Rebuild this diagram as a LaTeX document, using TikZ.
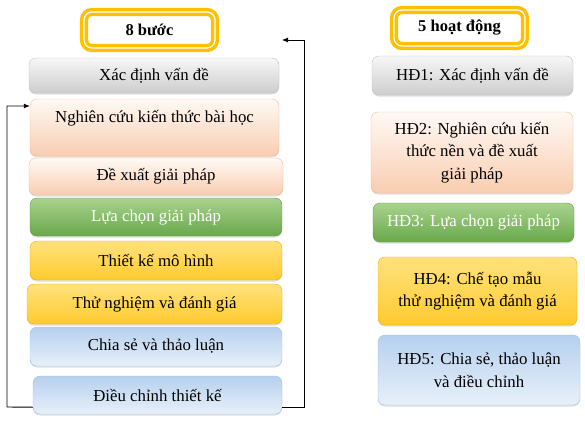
\documentclass[tikz,border=0pt]{standalone}
\usepackage{fontspec}
\setmainfont{Liberation Serif}
\usetikzlibrary{arrows.meta,calc,shadows}
\definecolor{grT}{HTML}{F7F7F7}\definecolor{grB}{HTML}{CDCDCD}\definecolor{grD}{HTML}{BFBFBF}
\definecolor{peT}{HTML}{FFF9F5}\definecolor{peB}{HTML}{F9CDB0}\definecolor{peD}{HTML}{F4B990}
\definecolor{gnT}{HTML}{A9D28E}\definecolor{gnB}{HTML}{68A84A}\definecolor{gnD}{HTML}{5E9A42}
\definecolor{orT}{HTML}{FFE27E}\definecolor{orM}{HTML}{FFC000}\definecolor{orB}{HTML}{FFCA2E}\definecolor{orD}{HTML}{E8B000}
\definecolor{blT}{HTML}{B6D0EE}\definecolor{blB}{HTML}{E8F0FA}\definecolor{blD}{HTML}{9DC3E6}
\definecolor{ttl}{HTML}{FFC000}
\tikzset{
  box/.style={rounded corners=7pt, inner sep=2pt, align=center, font=\fontsize{16.8}{22.5}\selectfont,
     drop shadow={shadow xshift=0pt, shadow yshift=-1.5pt, opacity=0.25}},
  graybox/.style={box, draw=grD, top color=grT, bottom color=grB},
  peachbox/.style={box, draw=peD, top color=peT, bottom color=peB},
  greenbox/.style={box, draw=gnD, top color=gnT, bottom color=gnB, text=white},
  orangebox/.style={box, draw=orD, top color=orT, middle color=orM, bottom color=orB},
  bluebox/.style={box, draw=blD, top color=blT, bottom color=blB},
  titlebox/.style={rounded corners=8pt, draw=ttl, line width=3.5pt, fill=white, double=white, double distance=1.2pt,
     font=\bfseries\fontsize{16.5}{20}\selectfont},
  loop/.style={line width=0.9pt, -{Latex[length=6pt,width=5pt]}}
}
\begin{document}
\begin{tikzpicture}[x=1pt,y=-1pt]
\useasboundingbox (0,0) rectangle (585,420);
% left column
\node[titlebox, minimum width=131pt, minimum height=36pt] (t1) at (149.5,30) {8 bước};
\node[graybox, minimum width=250pt, minimum height=35pt] (s1) at (154,75.5) {Xác định vấn đề};
\node[peachbox, minimum width=249pt, minimum height=57pt] (s2) at (154.5,127.5) {Nghiên cứu kiến thức bài học\\ \mbox{}};
\node[peachbox, minimum width=254pt, minimum height=37pt] (s3) at (156,176.5) {Đề xuất giải pháp};
\node[greenbox, minimum width=252pt, minimum height=38pt] (s4) at (156,217) {Lựa chọn giải pháp};
\node[orangebox, minimum width=252pt, minimum height=39pt] (s5) at (156,260.5) {Thiết kế mô hình};
\node[orangebox, minimum width=255pt, minimum height=40pt] (s6) at (154.5,304) {Thử nghiệm và đánh giá};
\node[bluebox, minimum width=252pt, minimum height=39pt] (s7) at (156,346.5) {Chia sẻ và thảo luận};
\node[bluebox, minimum width=249pt, minimum height=38pt] (s8) at (157.5,395) {Điều chỉnh thiết kế};
% right column
\node[titlebox, minimum width=131pt, minimum height=36pt] (t2) at (459.5,28) {5 hoạt động};
\node[graybox, minimum width=201pt, minimum height=39pt] (r1) at (472.5,75.5) {HĐ1: Xác định vấn đề};
\node[peachbox, minimum width=202pt, minimum height=81pt] (r2) at (472,152.5) {HĐ2: Nghiên cứu kiến\\thức nền và đề xuất\\giải pháp};
\node[greenbox, minimum width=201pt, minimum height=39pt] (r3) at (473.5,222.5) {HĐ3: Lựa chọn giải pháp};
\node[orangebox, minimum width=199pt, minimum height=68pt] (r4) at (477.5,291) {HĐ4: Chế tạo mẫu\\thử nghiệm và đánh giá};
\node[bluebox, minimum width=202pt, minimum height=70pt] (r5) at (479,370) {HĐ5: Chia sẻ, thảo luận\\và điều chỉnh};
% feedback loops
\coordinate (rt) at (282,40);
\draw[loop] ($(s8.south east)+(0,-7)$) -- ++(22,0) |- (rt);
\draw[loop] ($(s8.south west)+(0,-7)$) -- (7,407) |- (s2.west |- 0,106);
\end{tikzpicture}
\end{document}
